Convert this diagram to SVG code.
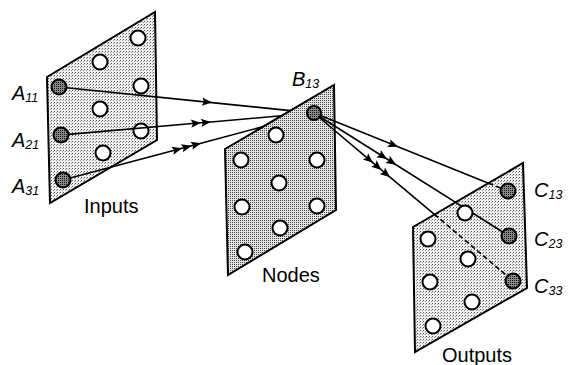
<svg xmlns="http://www.w3.org/2000/svg" width="581" height="365" viewBox="0 0 581 365">
<style>
.panel{stroke:#000;stroke-width:2;stroke-linejoin:miter}
.light{fill:url(#dotsLight)}
.dark{fill:url(#dotsDark)}
.w{fill:#fff;stroke:#000;stroke-width:2}
.act{fill:url(#dotsAct);stroke:#000;stroke-width:2}
.lbl{font-family:"Liberation Sans",Arial,sans-serif;font-size:20px;fill:#000}
.sym{font-family:"Liberation Sans",Arial,sans-serif;font-style:italic;font-size:20px;fill:#000}
.sub{font-size:12.5px}
.ln{fill:none;stroke:#000;stroke-width:1.6}
.dash{stroke-dasharray:5 3}
.ar{marker-mid:url(#arrow)}
</style>
<defs>
<pattern id="dotsLight" width="3" height="3" patternUnits="userSpaceOnUse">
<rect width="3" height="3" fill="#f0f0f0"/><rect width="1" height="1" fill="#555"/><rect x="2" y="1" width="1" height="1" fill="#999"/>
</pattern>
<pattern id="dotsDark" width="2" height="2" patternUnits="userSpaceOnUse">
<rect width="2" height="2" fill="#e4e4e4"/><rect width="1" height="1" fill="#444"/>
</pattern>
<pattern id="dotsAct" width="2" height="2" patternUnits="userSpaceOnUse">
<rect width="2" height="2" fill="#888"/><rect width="1" height="1" fill="#111"/>
</pattern>
<marker id="arrow" viewBox="-11 -6 12 12" refX="0" refY="0" markerWidth="12" markerHeight="12" markerUnits="userSpaceOnUse" orient="auto">
<path d="M0,0 L-10,-4.2 L-8,0 L-10,4.2 Z" fill="#000"/>
</marker>
</defs>

<g id="inputs">
<polygon class="panel light" points="47,77 155,12 157,140 50,203"/>
<circle class="w" cx="138" cy="38" r="7.5"/>
<circle class="w" cx="100" cy="62" r="7.5"/>
<circle class="w" cx="141" cy="86" r="7.5"/>
<circle class="w" cx="100" cy="109" r="7.5"/>
<circle class="w" cx="141" cy="131" r="7.5"/>
<circle class="w" cx="103" cy="153" r="7.5"/>
<circle id="A11" class="act" cx="59" cy="87" r="7.5"/>
<circle id="A21" class="act" cx="61" cy="135" r="7.5"/>
<circle id="A31" class="act" cx="63" cy="180" r="7.5"/>
<text class="sym" x="12" y="100">A<tspan class="sub" dx="0" dy="2">11</tspan></text>
<text class="sym" x="12" y="147">A<tspan class="sub" dx="0" dy="2">21</tspan></text>
<text class="sym" x="12" y="193">A<tspan class="sub" dx="0" dy="2">31</tspan></text>
<text class="lbl" x="84" y="213">Inputs</text>
</g>

<g id="nodes">
<polygon class="panel dark" points="225,149 334,85 336,210 228,275"/>
<circle class="w" cx="276" cy="135" r="7.5"/>
<circle class="w" cx="241" cy="160" r="7.5"/>
<circle class="w" cx="317" cy="160" r="7.5"/>
<circle class="w" cx="279" cy="183" r="7.5"/>
<circle class="w" cx="242" cy="207" r="7.5"/>
<circle class="w" cx="317" cy="206" r="7.5"/>
<circle class="w" cx="280" cy="228" r="7.5"/>
<circle class="w" cx="245" cy="252" r="7.5"/>
<circle id="B13" class="act" cx="314" cy="113" r="7"/>
<text class="sym" x="292" y="86">B<tspan class="sub" dx="0" dy="2">13</tspan></text>
<text class="lbl" x="262" y="282">Nodes</text>
</g>

<g id="outputs">
<polygon class="panel light" points="413,227 523,163 527,288 415,352"/>
<circle class="w" cx="465" cy="213" r="7.5"/>
<circle class="w" cx="428" cy="239" r="7.5"/>
<circle class="w" cx="468" cy="259" r="7.5"/>
<circle class="w" cx="430" cy="282" r="7.5"/>
<circle class="w" cx="472" cy="302" r="7.5"/>
<circle class="w" cx="433" cy="326" r="7.5"/>
<circle id="C13" class="act" cx="508" cy="191" r="7.5"/>
<circle id="C23" class="act" cx="509" cy="236" r="7.5"/>
<circle id="C33" class="act" cx="513" cy="281" r="7.5"/>
<text class="sym" x="534" y="197">C<tspan class="sub" dx="0" dy="2">13</tspan></text>
<text class="sym" x="534" y="246">C<tspan class="sub" dx="0" dy="2">23</tspan></text>
<text class="sym" x="534" y="293">C<tspan class="sub" dx="0" dy="2">33</tspan></text>
<text class="lbl" x="442" y="362">Outputs</text>
</g>

<g id="connectors">
<polyline class="ln ar" points="66.5,87.8 212,102.6 290.4,110.6"/>
<polyline class="ln ar" points="68.5,134.35 201,122.8 211,121.96 281.5,115.8"/>
<polyline class="ln ar" points="70.2,178.1 182,148.2 191.5,145.7 201,143.2 263.2,126.6"/>
<polyline class="ln ar" points="320.5,115.6 398,146.8 488.5,183.2"/>
<line class="ln dash" x1="488.5" y1="183.2" x2="501" y2="188.2"/>
<polyline class="ln ar" points="319.9,116.7 387,159 396,164.7 462.4,206.6"/>
<line class="ln" x1="471.8" y1="212.5" x2="502.7" y2="232"/>
<polyline class="ln ar" points="319.3,117.5 373,162.8 381.5,170 390,177.2 434.4,214.3"/>
<line class="ln dash" x1="434.4" y1="214.3" x2="507.3" y2="276.1"/>
</g>
</svg>
